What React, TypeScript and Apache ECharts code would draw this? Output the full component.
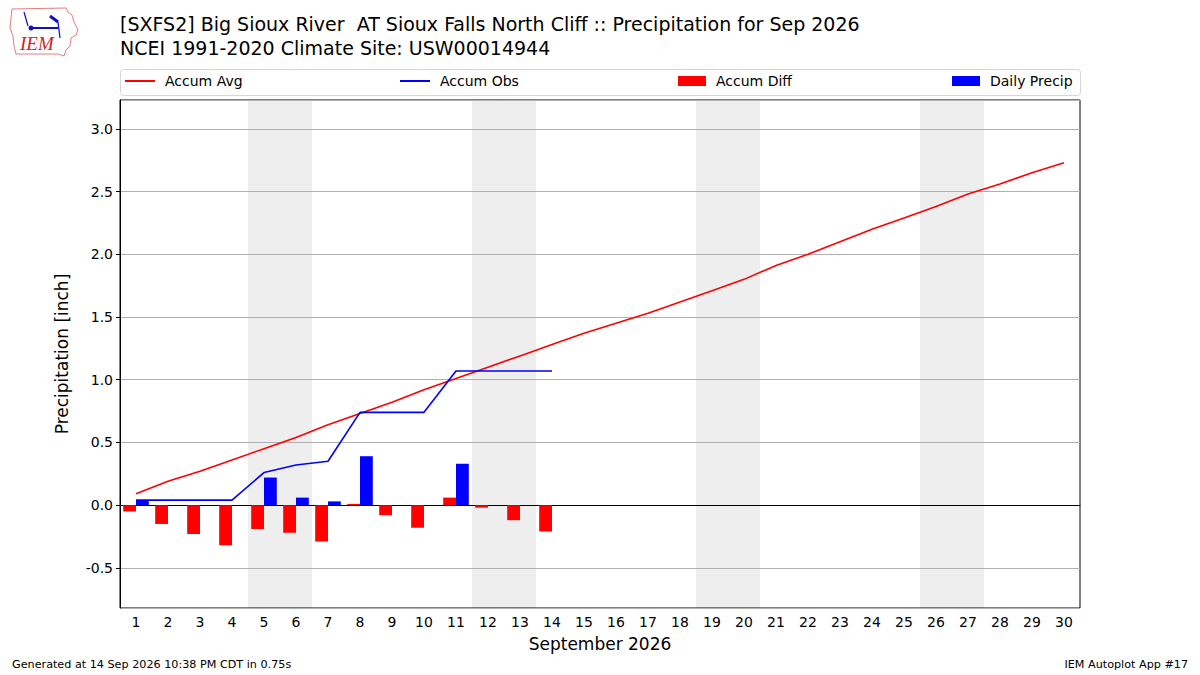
import { useEffect, useRef } from "react";
import * as echarts from "echarts";

// day-of-month labels, September 2026
const days = Array.from({ length: 30 }, (_, i) => String(i + 1));

// climatological accumulated precip (inch)
const accumAvg = [
  0.09, 0.19, 0.27, 0.36, 0.45, 0.54, 0.64, 0.73, 0.82, 0.92,
  1.01, 1.10, 1.19, 1.28, 1.37, 1.45, 1.53, 1.62, 1.71, 1.80,
  1.91, 2.0, 2.10, 2.20, 2.29, 2.38, 2.48, 2.56, 2.65, 2.73,
];

// observed accumulation, days 1-14
const accumObs = [0.04, 0.04, 0.04, 0.04, 0.26, 0.32, 0.35, 0.74, 0.74, 0.74, 1.07, 1.07, 1.07, 1.07];

// obs minus avg, days 1-14
const accumDiff = [-0.05, -0.15, -0.23, -0.32, -0.19, -0.22, -0.29, 0.01, -0.08, -0.18, 0.06, -0.02, -0.12, -0.21];

// daily totals, days 1-14
const dailyPrecip = [0.04, 0, 0, 0, 0.22, 0.06, 0.03, 0.39, 0, 0, 0.33, 0, 0, 0];

// first day of each weekend (Sat)
const weekendStarts = [5, 12, 19, 26];

const FONT = "DejaVu Sans";

function barRender(color: string, side: "left" | "right") {
  return (params: any, api: any) => {
    const idx = api.value(0);
    const v = api.value(1);
    if (!v) return null;
    const bw = api.size([1, 0])[0];
    const w = bw * 0.4;
    const p0 = api.coord([idx, 0]);
    const p1 = api.coord([idx, v]);
    const x = side === "left" ? p0[0] - w : p0[0];
    return {
      type: "rect",
      shape: { x, y: Math.min(p0[1], p1[1]), width: w, height: Math.abs(p0[1] - p1[1]) },
      style: { fill: color },
    };
  };
}

const legendBase = {
  top: 74,
  padding: 0,
  selectedMode: false,
  textStyle: { fontFamily: FONT, fontSize: 14, color: "#000", padding: [0, 0, 0, 5] },
};

export default function App() {
  const ref = useRef<HTMLDivElement>(null);

  useEffect(() => {
    document.body.style.margin = "0";
    if (!ref.current) return;
    const chart = echarts.init(ref.current, undefined, { renderer: "svg" });

    chart.setOption({
      animation: false,
      title: {
        text: "[SXFS2] Big Sioux River  AT Sioux Falls North Cliff :: Precipitation for Sep 2026\nNCEI 1991-2020 Climate Site: USW00014944",
        left: 120,
        top: 12,
        padding: 0,
        textStyle: { fontFamily: FONT, fontSize: 19, fontWeight: "normal", color: "#000", lineHeight: 24 },
      },
      legend: [
        { ...legendBase, left: 125, itemWidth: 30, itemHeight: 2, data: [{ name: "Accum Avg", icon: "rect" }] },
        { ...legendBase, left: 400, itemWidth: 30, itemHeight: 2, data: [{ name: "Accum Obs", icon: "rect" }] },
        { ...legendBase, left: 678, itemWidth: 28, itemHeight: 10, data: [{ name: "Accum Diff", icon: "rect" }] },
        { ...legendBase, left: 952, itemWidth: 28, itemHeight: 10, data: [{ name: "Daily Precip", icon: "rect" }] },
      ],
      grid: { left: 120, right: 120, top: 100, bottom: 67, show: true, borderColor: "#000", borderWidth: 1 },
      xAxis: {
        type: "category",
        data: days,
        boundaryGap: true,
        name: "September 2026",
        nameLocation: "middle",
        nameGap: 27,
        nameTextStyle: { fontFamily: FONT, fontSize: 17, color: "#000" },
        axisLine: { lineStyle: { color: "#000" } },
        axisTick: { alignWithLabel: true, length: 4, lineStyle: { color: "#000" } },
        axisLabel: { fontFamily: FONT, fontSize: 14, color: "#000", margin: 7 },
        splitLine: { show: false },
      },
      yAxis: {
        type: "value",
        min: -0.82,
        max: 3.23,
        splitNumber: 8,
        name: "Precipitation [inch]",
        nameLocation: "middle",
        nameGap: 50,
        nameTextStyle: { fontFamily: FONT, fontSize: 17, color: "#000" },
        axisLine: { show: true, lineStyle: { color: "#000" } },
        axisTick: { show: true, length: 4, lineStyle: { color: "#000" } },
        axisLabel: {
          fontFamily: FONT,
          fontSize: 14,
          color: "#000",
          margin: 7,
          showMinLabel: false,
          showMaxLabel: false,
          formatter: (v: number) => (Math.abs(v * 2 - Math.round(v * 2)) < 1e-6 ? v.toFixed(1) : ""),
        },
        splitLine: { show: true, lineStyle: { color: "#b0b0b0", width: 1 } },
      },
      series: [
        {
          name: "weekend",
          type: "custom",
          z: -1,
          silent: true,
          data: weekendStarts.map((d) => [d - 1]),
          renderItem: (params: any, api: any) => {
            const idx = api.value(0);
            const bw = api.size([1, 0])[0];
            const cx = api.coord([idx, 0])[0];
            const cs = params.coordSys;
            return {
              type: "rect",
              shape: { x: cx - bw / 2, y: cs.y, width: bw * 2, height: cs.height },
              style: { fill: "#eeeeee" },
            };
          },
        },
        {
          name: "Accum Avg",
          type: "line",
          data: accumAvg,
          showSymbol: false,
          itemStyle: { color: "#ff0000" },
          lineStyle: { color: "#ff0000", width: 1.6 },
        },
        {
          name: "Accum Obs",
          type: "line",
          data: accumObs,
          showSymbol: false,
          itemStyle: { color: "#0000ff" },
          lineStyle: { color: "#0000ff", width: 1.6 },
        },
        {
          name: "Accum Diff",
          type: "custom",
          itemStyle: { color: "#ff0000" },
          data: accumDiff.map((v, i) => [i, v]),
          renderItem: barRender("#ff0000", "left"),
        },
        {
          name: "Daily Precip",
          type: "custom",
          itemStyle: { color: "#0000ff" },
          data: dailyPrecip.map((v, i) => [i, v]),
          renderItem: barRender("#0000ff", "right"),
        },
      ],
      graphic: [
        // legend frame
        {
          type: "rect",
          z: -10,
          shape: { x: 120.5, y: 69.5, width: 960, height: 26, r: 3 },
          style: { fill: "#fff", stroke: "#d6d6d6", lineWidth: 1 },
        },
        // IEM logo, rough
        {
          type: "polygon",
          shape: {
            points: [
              [12, 9], [66, 8], [68, 12], [72, 15], [74, 22], [78, 30], [76, 35], [71, 38],
              [70, 46], [66, 50], [64, 56], [58, 54], [16, 54], [14, 46], [13, 36], [10, 28], [11, 18],
            ],
          },
          style: { fill: "#fff", stroke: "#e47c7c", lineWidth: 1 },
        },
        { type: "line", shape: { x1: 30, y1: 28, x2: 58, y2: 28 }, style: { stroke: "#1010c0", lineWidth: 2 } },
        { type: "circle", shape: { cx: 31, cy: 28, r: 2.5 }, style: { fill: "#1010c0" } },
        { type: "line", shape: { x1: 24, y1: 12, x2: 28, y2: 26 }, style: { stroke: "#1010c0", lineWidth: 1.2 } },
        { type: "line", shape: { x1: 50, y1: 16, x2: 58, y2: 22 }, style: { stroke: "#1010c0", lineWidth: 3 } },
        { type: "line", shape: { x1: 58, y1: 22, x2: 60, y2: 38 }, style: { stroke: "#1010c0", lineWidth: 1.2 } },
        {
          type: "text",
          left: 20,
          top: 34,
          style: { text: "IEM", fontFamily: "Liberation Serif", fontStyle: "italic", fontSize: 19, fill: "#d42020" },
        },
        // footer
        {
          type: "text",
          left: 12,
          top: 659,
          style: { text: "Generated at 14 Sep 2026 10:38 PM CDT in 0.75s", fontFamily: FONT, fontSize: 11.2, fill: "#000" },
        },
        {
          type: "text",
          right: 12,
          top: 659,
          style: { text: "IEM Autoplot App #17", fontFamily: FONT, fontSize: 11.2, fill: "#000" },
        },
      ],
    });

    return () => chart.dispose();
  }, []);

  return <div ref={ref} style={{ width: 1200, height: 675 }} />;
}
